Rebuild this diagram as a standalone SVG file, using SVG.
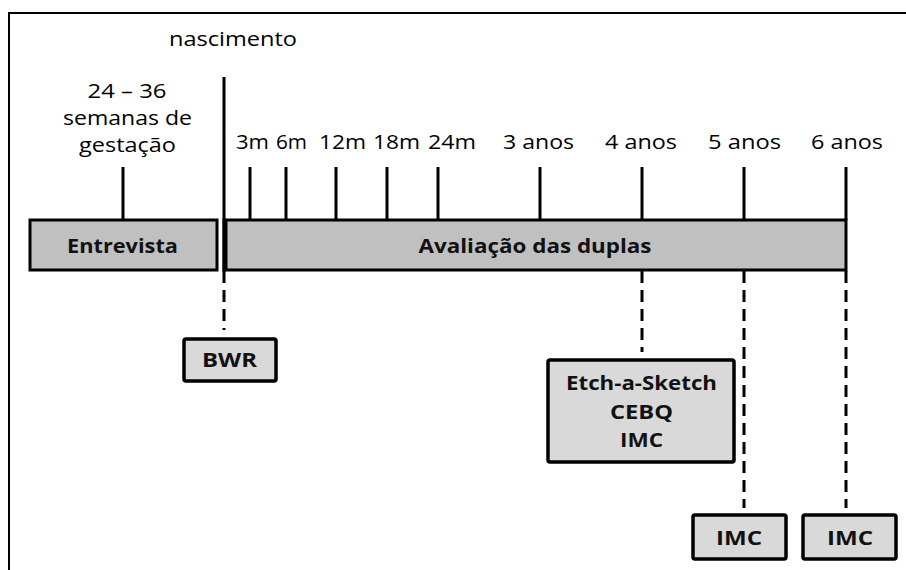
<svg xmlns="http://www.w3.org/2000/svg" width="906" height="570" viewBox="0 0 906 570">
<style>
.t{font-family:"Open Sans","Liberation Sans",sans-serif;font-size:20.5px;fill:#000;text-anchor:middle}
.b{font-family:"Open Sans","Liberation Sans",sans-serif;font-size:20px;font-weight:bold;fill:#111;text-anchor:middle}
.big{fill:#c0c0c0;stroke:#000;stroke-width:3}
.box{fill:#d9d9d9;stroke:#000;stroke-width:3.5}
.ln{stroke:#000;stroke-width:3;fill:none}
.dash{stroke:#000;stroke-width:3;fill:none;stroke-dasharray:12 7}
</style>
<rect x="9" y="13" width="1000" height="1000" fill="#fff" stroke="#000" stroke-width="2"/>
<g id="labels">
<text class="t" x="233" y="46" textLength="128" lengthAdjust="spacingAndGlyphs">nascimento</text>
<text class="t" x="127" y="98" textLength="79" lengthAdjust="spacingAndGlyphs">24 – 36</text>
<text class="t" x="127.5" y="125" textLength="129" lengthAdjust="spacingAndGlyphs">semanas de</text>
<text class="t" x="127.5" y="152" textLength="97" lengthAdjust="spacingAndGlyphs">gestação</text>
<text class="t" x="252.5" y="149" textLength="33" lengthAdjust="spacingAndGlyphs">3m</text>
<text class="t" x="291.5" y="149" textLength="31" lengthAdjust="spacingAndGlyphs">6m</text>
<text class="t" x="342.5" y="149" textLength="47" lengthAdjust="spacingAndGlyphs">12m</text>
<text class="t" x="396.5" y="149" textLength="47" lengthAdjust="spacingAndGlyphs">18m</text>
<text class="t" x="452" y="149" textLength="48" lengthAdjust="spacingAndGlyphs">24m</text>
<text class="t" x="538.5" y="149" textLength="71" lengthAdjust="spacingAndGlyphs">3 anos</text>
<text class="t" x="641" y="149" textLength="72" lengthAdjust="spacingAndGlyphs">4 anos</text>
<text class="t" x="744.5" y="149" textLength="73" lengthAdjust="spacingAndGlyphs">5 anos</text>
<text class="t" x="847" y="149" textLength="72" lengthAdjust="spacingAndGlyphs">6 anos</text>
</g>
<g id="connectors">
<line class="ln" x1="224" y1="77" x2="224" y2="283"/>
<line class="ln" x1="123" y1="167" x2="123" y2="220"/>
<line class="ln" x1="250" y1="167" x2="250" y2="220"/>
<line class="ln" x1="286" y1="167" x2="286" y2="220"/>
<line class="ln" x1="336" y1="167" x2="336" y2="220"/>
<line class="ln" x1="387" y1="167" x2="387" y2="220"/>
<line class="ln" x1="438" y1="167" x2="438" y2="220"/>
<line class="ln" x1="540" y1="167" x2="540" y2="220"/>
<line class="ln" x1="642" y1="167" x2="642" y2="220"/>
<line class="ln" x1="744" y1="167" x2="744" y2="220"/>
<line class="ln" x1="846" y1="167" x2="846" y2="220"/>
<line class="dash" x1="224" y1="290" x2="224" y2="330" stroke-dasharray="13 7"/>
<line class="dash" x1="642" y1="271" x2="642" y2="352"/>
<line class="dash" x1="744" y1="271" x2="744" y2="508"/>
<line class="dash" x1="846" y1="271" x2="846" y2="508"/>
</g>
<g id="entrevista">
<rect class="big" x="30" y="220" width="187" height="50"/>
<text class="b" x="122.5" y="253" textLength="111" lengthAdjust="spacingAndGlyphs">Entrevista</text>
</g>
<g id="avaliacao">
<rect class="big" x="226" y="220" width="620" height="50"/>
<text class="b" x="535" y="253" textLength="233" lengthAdjust="spacingAndGlyphs">Avaliação das duplas</text>
</g>
<line class="ln" x1="224" y1="218" x2="224" y2="272"/>
<g id="bwr">
<rect class="box" x="184" y="339" width="92" height="42" rx="2"/>
<text class="b" x="229.5" y="367" textLength="55" lengthAdjust="spacingAndGlyphs">BWR</text>
</g>
<g id="etch">
<rect class="box" x="548" y="360" width="186" height="102" rx="2"/>
<text class="b" x="641.5" y="390" textLength="151" lengthAdjust="spacingAndGlyphs">Etch-a-Sketch</text>
<text class="b" x="641.5" y="419" textLength="63" lengthAdjust="spacingAndGlyphs">CEBQ</text>
<text class="b" x="641.5" y="447" textLength="43" lengthAdjust="spacingAndGlyphs">IMC</text>
</g>
<g id="imc5">
<rect class="box" x="693" y="515" width="93" height="44" rx="2"/>
<text class="b" x="739" y="545" textLength="46" lengthAdjust="spacingAndGlyphs">IMC</text>
</g>
<g id="imc6">
<rect class="box" x="803" y="515" width="93" height="44" rx="2"/>
<text class="b" x="850" y="545" textLength="46" lengthAdjust="spacingAndGlyphs">IMC</text>
</g>
</svg>
